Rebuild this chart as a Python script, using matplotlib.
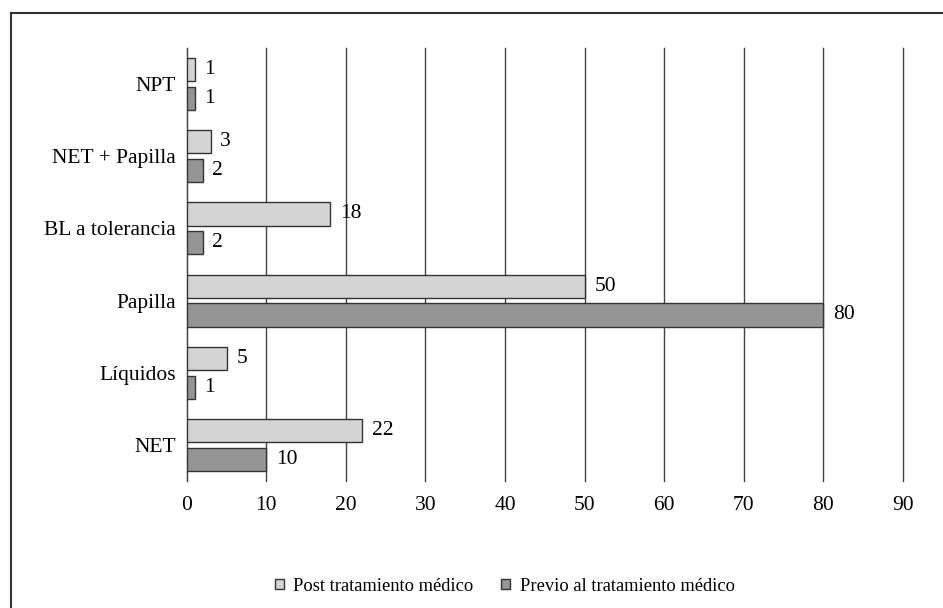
import matplotlib.pyplot as plt
import numpy as np
from matplotlib.lines import Line2D

categories = ["NET", "Líquidos", "Papilla", "BL a tolerancia", "NET + Papilla", "NPT"]
post = [22, 5, 50, 18, 3, 1]
previo = [10, 1, 80, 2, 2, 1]
series_names = ["Post tratamiento médico", "Previo al tratamiento médico"]
xticks = list(range(0, 100, 10))

plt.rcParams["font.family"] = ["Liberation Serif", "DejaVu Serif"]

fig = plt.figure(figsize=(9.43, 6.08), dpi=100)
ax = fig.add_axes([0.198, 0.209, 0.7595, 0.712])

y = np.arange(len(categories))
h = 0.32
off = 0.2
b1 = ax.barh(y + off, post, height=h, color="#d4d4d4", edgecolor="#333333",
             linewidth=1, label=series_names[0], zorder=3)
b2 = ax.barh(y - off, previo, height=h, color="#959595", edgecolor="#333333",
             linewidth=1, label=series_names[1], zorder=3)
ax.bar_label(b1, padding=7, fontsize=15.5)
ax.bar_label(b2, padding=7, fontsize=15.5)

ax.set_xlim(0, 90)
ax.set_ylim(-0.5, 5.5)
ax.set_xticks(xticks)
ax.set_yticks(y)
ax.set_yticklabels(categories)
ax.tick_params(axis="x", length=0, labelsize=15.5, pad=10.5)
ax.tick_params(axis="y", length=0, labelsize=15.5, pad=8)
ax.grid(axis="x", color="#444444", linewidth=1)
for gl in ax.get_xgridlines():
    gl.set_clip_on(False)
for side in ["top", "right", "bottom"]:
    ax.spines[side].set_visible(False)
ax.spines["left"].set_color("#444444")
ax.set_axisbelow(True)

ax.legend(loc="center", bbox_to_anchor=(0.444, -0.243), ncol=2, frameon=False,
          fontsize=13.3, handlelength=0.5, handleheight=0.5, columnspacing=1.5,
          handletextpad=0.5)

# outer frame (top and left edges only visible)
fig.add_artist(Line2D([0.0118, 1.0], [0.978, 0.978], transform=fig.transFigure,
                      color="#333333", linewidth=1.5))
fig.add_artist(Line2D([0.0118, 0.0118], [0.0, 0.978], transform=fig.transFigure,
                      color="#333333", linewidth=1.5))

fig.savefig("out.png", dpi=100)
